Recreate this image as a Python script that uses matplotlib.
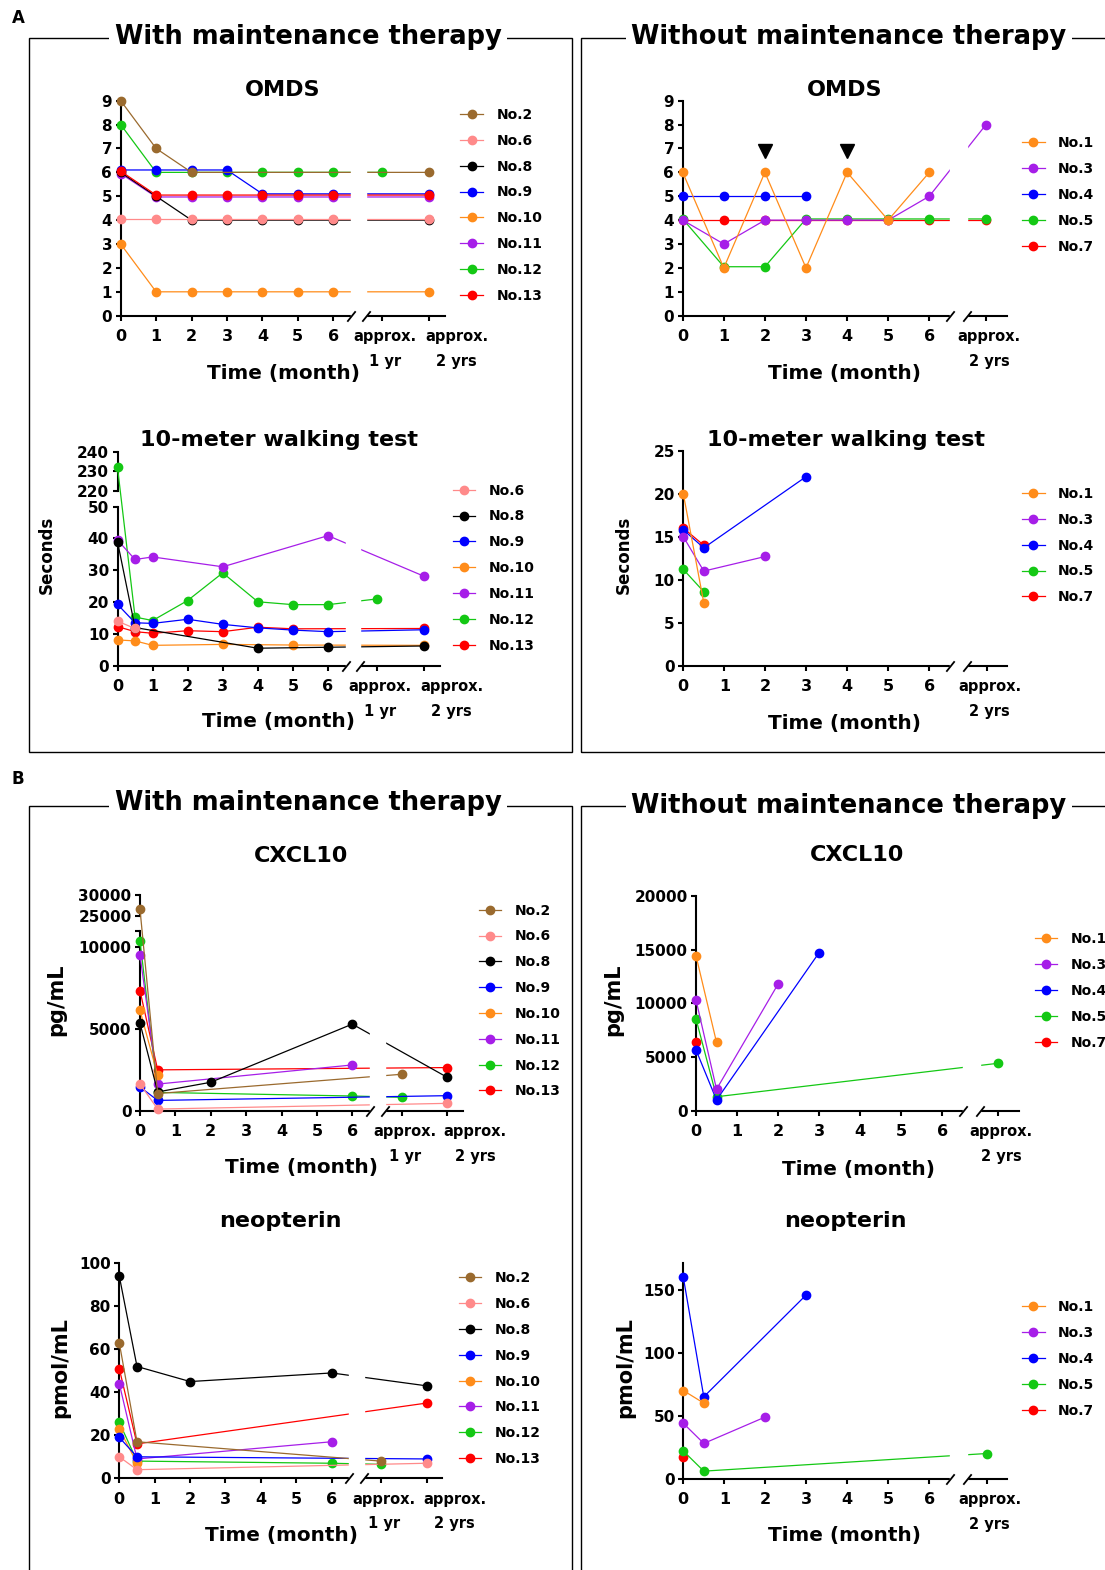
import numpy as np
import matplotlib.pyplot as plt
from matplotlib import transforms
from matplotlib.patches import Rectangle

W, H = 1105, 1570
plt.rcParams['font.family'] = ['DejaVu Sans']
plt.rcParams['font.weight'] = 'bold'

colors = {
    "No.1": "#FF8C1A", "No.2": "#9A6A2E", "No.3": "#A61EE8", "No.4": "#0000FF",
    "No.5": "#14C814", "No.6": "#FF8A8A", "No.7": "#FF0000", "No.8": "#000000",
    "No.9": "#0000FF", "No.10": "#FF8C1A", "No.11": "#A61EE8", "No.12": "#14C814",
    "No.13": "#FF0000",
}

# time in months; approx. 1 yr = 12, approx. 2 yrs = 24
omds_with = {
    "No.2": ([0, 1, 2, 24], [9, 7, 6, 6]),
    "No.6": ([0, 1, 2, 3, 4, 5, 6, 24], [4.05, 4.05, 4.05, 4.05, 4.05, 4.05, 4.05, 4.05]),
    "No.8": ([0, 1, 2, 3, 4, 5, 6, 24], [6, 5, 4, 4, 4, 4, 4, 4]),
    "No.9": ([0, 1, 2, 3, 4, 5, 6, 24], [6.1, 6.1, 6.1, 6.1, 5.1, 5.1, 5.1, 5.1]),
    "No.10": ([0, 1, 2, 3, 4, 5, 6, 24], [3, 1, 1, 1, 1, 1, 1, 1]),
    "No.11": ([0, 1, 2, 3, 4, 5, 6, 24], [5.95, 4.97, 4.97, 4.97, 4.97, 4.97, 4.97, 4.97]),
    "No.12": ([0, 1, 2, 3, 4, 5, 6, 12], [8, 6, 6, 6, 6, 6, 6, 6]),
    "No.13": ([0, 1, 2, 3, 4, 5, 6, 24], [6.05, 5.05, 5.05, 5.05, 5.05, 5.05, 5.05, 5.05]),
}
omds_with_order = ["No.12", "No.11", "No.10", "No.9", "No.8", "No.6", "No.2", "No.13"]

omds_without = {
    "No.1": ([0, 1, 2, 3, 4, 5, 6], [6, 2, 6, 2, 6, 4, 6]),
    "No.3": ([0, 1, 2, 3, 4, 5, 6, 24], [4, 3, 4, 4, 4, 4, 5, 8]),
    "No.4": ([0, 1, 2, 3], [5, 5, 5, 5]),
    "No.5": ([0, 1, 2, 3, 4, 5, 6, 24], [4.05, 2.05, 2.05, 4.05, 4.05, 4.05, 4.05, 4.05]),
    "No.7": ([0, 1, 2, 3, 4, 5, 6, 24], [4, 4, 4, 4, 4, 4, 4, 4]),
}
arrow_months = [2, 4]
arrow_level = 6.9

walk_with = {
    "No.6": ([0, 0.5], [14.0, 11.7]),
    "No.8": ([0, 0.5, 4, 6, 24], [39, 12, 5.5, 5.8, 6.2]),
    "No.9": ([0, 0.5, 1, 2, 3, 4, 5, 6, 24], [19.3, 13.5, 13.3, 14.6, 13.0, 11.9, 11.2, 10.7, 11.3]),
    "No.10": ([0, 0.5, 1, 3, 5, 24], [8.1, 7.8, 6.4, 6.7, 6.5, 6.4]),
    "No.11": ([0, 0.5, 1, 3, 6, 24], [39.5, 33.4, 34.2, 31.1, 40.9, 28.2]),
    "No.12": ([0, 0.5, 1, 2, 3, 4, 5, 6, 12], [232, 15.3, 14.2, 20.5, 29.2, 20.1, 19.2, 19.2, 21.0]),
    "No.13": ([0, 0.5, 1, 2, 3, 4, 5, 24], [12.3, 10.7, 10.2, 11.0, 10.7, 12.1, 11.6, 11.7]),
}

walk_without = {
    "No.1": ([0, 0.5], [20, 7.3]),
    "No.3": ([0, 0.5, 2], [15, 11, 12.7]),
    "No.4": ([0, 0.5, 3], [15.8, 13.7, 22]),
    "No.5": ([0, 0.5], [11.2, 8.6]),
    "No.7": ([0, 0.5], [16, 14]),
}

cxcl_with = {
    "No.2": ([0, 0.5, 12], [26600, 1050, 2230]),
    "No.6": ([0, 0.5, 24], [1630, 100, 450]),
    "No.8": ([0, 0.5, 2, 6, 24], [5360, 1150, 1740, 5300, 2040]),
    "No.9": ([0, 0.5, 24], [1450, 630, 920]),
    "No.10": ([0, 0.5], [6140, 2160]),
    "No.11": ([0, 0.5, 6], [9520, 1630, 2800]),
    "No.12": ([0, 0.5, 6, 12], [10400, 1120, 900, 820]),
    "No.13": ([0, 0.5, 24], [7340, 2500, 2640]),
}

cxcl_without = {
    "No.1": ([0, 0.5], [14440, 6370]),
    "No.3": ([0, 0.5, 2], [10320, 2000, 11800]),
    "No.4": ([0, 0.5, 3], [5660, 1000, 14730]),
    "No.5": ([0, 0.5, 24], [8550, 1300, 4420]),
    "No.7": ([0], [6370]),
}

neop_with = {
    "No.2": ([0, 0.5, 12], [63, 17, 8]),
    "No.6": ([0, 0.5, 24], [10, 4, 7]),
    "No.8": ([0, 0.5, 2, 6, 24], [94, 52, 45, 49, 43]),
    "No.9": ([0, 0.5, 24], [19, 10, 9]),
    "No.10": ([0, 0.5], [23, 7]),
    "No.11": ([0, 0.5, 6], [44, 9, 17]),
    "No.12": ([0, 0.5, 6, 12], [26, 8, 7, 6.5]),
    "No.13": ([0, 0.5, 24], [51, 16, 35]),
}

neop_without = {
    "No.1": ([0, 0.5], [70, 60]),
    "No.3": ([0, 0.5, 2], [44, 28, 49]),
    "No.4": ([0, 0.5, 3], [160, 65, 146]),
    "No.5": ([0, 0.5, 24], [22, 6, 20]),
    "No.7": ([0], [17]),
}

fig = plt.figure(figsize=(W / 100, H / 100), dpi=100)


def piecewise(src, dst):
    src = np.asarray(src, float)
    dst = np.asarray(dst, float)
    lo = (dst[1] - dst[0]) / (src[1] - src[0])
    hi = (dst[-1] - dst[-2]) / (src[-1] - src[-2])

    def f(v):
        v = np.asarray(v, float)
        out = np.interp(v, src, dst)
        out = np.where(v < src[0], dst[0] + (v - src[0]) * lo, out)
        out = np.where(v > src[-1], dst[-1] + (v - src[-1]) * hi, out)
        return out
    return f


def txt(x, y, s, size, **kw):
    kw.setdefault('ha', 'center')
    kw.setdefault('va', 'center')
    return fig.text(x / W, 1 - y / H, s, fontsize=size, fontweight='bold', **kw)


def panel(geo, series, ylim, yticks, legend_at, order=None, ysplit=None):
    x0, x6, x1y, x2y, xend, ybot, ytop = geo
    ax = fig.add_axes([x0 / W, 1 - ybot / H, (xend - x0) / W, (ybot - ytop) / H])
    ax.patch.set_alpha(0)
    unit = (x6 - x0) / 6
    src, dst = [0, 6], [0, 6]
    if x1y:
        src.append(12)
        dst.append((x1y - x0) / unit)
    src.append(24)
    dst.append((x2y - x0) / unit)
    fwd, inv = piecewise(src, dst), piecewise(dst, src)
    ax.set_xscale('function', functions=(fwd, inv))
    ax.set_xlim(0, float(inv((xend - x0) / unit)))
    if ysplit:
        ax.set_yscale('function', functions=(piecewise(*ysplit), piecewise(ysplit[1], ysplit[0])))
    ax.set_ylim(*ylim)

    names = list(series)
    lines = {}
    for name in (order or names[::-1]):
        t, v = series[name]
        lines[name], = ax.plot(t, v, color=colors[name], lw=0.9, marker='o', ms=6,
                               clip_on=False, zorder=2.6)

    # axis break
    b1, b2 = float(inv(6.5)), float(inv(6.92))
    ax.axvspan(b1, b2, ymin=-0.05, ymax=1, color='white', zorder=3, clip_on=False)
    ax.plot([b1, b2], [0, 0], transform=ax.get_xaxis_transform(), ls='none',
            marker=[(-0.8, -1), (0.8, 1)], ms=7.5, mew=1.3, mec='black', mfc='none',
            clip_on=False, zorder=4)

    ticks = [0, 1, 2, 3, 4, 5, 6] + ([12] if x1y else []) + [24]
    labels = [str(i) for i in range(7)] + (['approx.\n1 yr'] if x1y else []) + ['approx.\n2 yrs']
    ax.set_xticks(ticks, labels)
    ylabels = [str(v) for v in yticks]
    if ysplit:
        ylabels = ['' if v == ysplit[0][1] and v not in (50,) else str(v) for v in yticks]
    ax.set_yticks(yticks, ylabels)
    ax.tick_params(axis='x', length=3.6, width=1.5, pad=6, labelsize=11.5)
    ax.tick_params(axis='y', length=3.6, width=1.5, pad=2.5, labelsize=11)
    for s in ['top', 'right']:
        ax.spines[s].set_visible(False)
    for s in ['left', 'bottom']:
        ax.spines[s].set_linewidth(1.5)
    if ysplit:
        ax.spines['left'].set_bounds(0, ysplit[0][1])
        ax.plot([0, 0], [ysplit[0][2], ysplit[0][3]], transform=ax.get_yaxis_transform(),
                color='black', lw=1.5, clip_on=False, solid_capstyle='projecting')
    xl = ax.get_xticklabels()
    for k, lab in enumerate(xl[7:]):
        lab.set_fontsize(10.5)
        lab.set_linespacing(1.8)
        dx = 3 if (k == 0 or not x1y) else 28
        lab.set_transform(lab.get_transform() +
                          transforms.ScaledTranslation(dx / 100, 0, fig.dpi_scale_trans))

    mx, y0 = legend_at
    n = len(names)
    ax.legend([lines[nm] for nm in names], names, loc='center left',
              bbox_to_anchor=((mx - 11.5) / W, 1 - (y0 + (n - 1) / 2 * 25.8) / H),
              bbox_transform=fig.transFigure, frameon=False,
              handlelength=1.65, handletextpad=0.95, labelspacing=0.85,
              borderpad=0, borderaxespad=0, prop={'weight': 'bold', 'size': 10})
    return ax


# A: OMDS
panel((120.7, 333.3, 382.3, 428.7, 444.5, 315.7, 100.7), omds_with, (0, 9), range(10),
      (471.7, 115), order=omds_with_order)
ax = panel((682.7, 929.3, None, 986, 1006.7, 315.7, 100.7), omds_without, (0, 9), range(10),
           (1033.3, 143.3))
ax.plot(arrow_months, [arrow_level] * len(arrow_months), ls='none', marker='v', ms=10,
        color='black', zorder=5)

# A: walking test
panel((117.5, 328, 377, 423.5, 440, 665.7, 451.7), walk_with, (0, 240),
      [0, 10, 20, 30, 40, 50, 220, 230, 240], (464, 490.7),
      ysplit=([0, 50, 220, 240], [0, 159, 175, 214]))
panel((683.3, 929.3, None, 986.7, 1006.7, 665.7, 450.7), walk_without, (0, 25),
      [0, 5, 10, 15, 20, 25], (1033.3, 494))

# B: CXCL10
panel((140, 352.3, 401.7, 447.3, 463.3, 1110.7, 895), cxcl_with, (0, 30000),
      [0, 5000, 10000, 11000, 25000, 30000], (490, 910.7),
      ysplit=([0, 11000, 25000, 30000], [0, 179.7, 194.7, 215.7]))
panel((696, 942.3, None, 998.3, 1019, 1110.7, 896), cxcl_without, (0, 20000),
      [0, 5000, 10000, 15000, 20000], (1046, 939.3))

# B: neopterin
panel((119.3, 331.7, 380.7, 426.7, 442.3, 1478.3, 1263.3), neop_with, (0, 100),
      [0, 20, 40, 60, 80, 100], (470, 1278.3))
panel((683.3, 929.3, None, 986.7, 1006.7, 1478.7, 1263.3), neop_without, (0, 171),
      [0, 50, 100, 150], (1033.3, 1307.3))

# titles and axis labels
for x, y, s in [(282.5, 90, 'OMDS'), (844.7, 90, 'OMDS'),
                (279, 440, '10-meter walking test'), (845.7, 440, '10-meter walking test'),
                (300.8, 856, 'CXCL10'), (857.5, 855, 'CXCL10'),
                (280.8, 1221, 'neopterin'), (845.7, 1221, 'neopterin')]:
    txt(x, y, s, 16)
for x, y in [(283.3, 373), (845, 373), (279, 722), (845, 723),
             (301.7, 1168), (858, 1170), (281.7, 1536), (845, 1536)]:
    txt(x, y, 'Time (month)', 14.4)
for x, y, s, size in [(47, 555, 'Seconds', 12), (623.3, 555, 'Seconds', 12),
                      (56.7, 1000, 'pg/mL', 15), (613.3, 1000, 'pg/mL', 15),
                      (60, 1368, 'pmol/mL', 15), (625, 1368, 'pmol/mL', 15)]:
    txt(x, y, s, size, rotation=90)

# group boxes
for l, t, r, b in [(29, 38, 572, 752), (581, 38, 1120, 752),
                   (29, 806, 572, 1590), (581, 806, 1120, 1590)]:
    fig.add_artist(Rectangle((l / W, 1 - b / H), (r - l) / W, (b - t) / H,
                             transform=fig.transFigure, fill=False, lw=1, ec='black', zorder=1))
box_style = dict(facecolor='white', edgecolor='none', pad=4)
txt(308, 37, 'With maintenance therapy', 18.5, bbox=box_style)
txt(849, 37, 'Without maintenance therapy', 18.5, bbox=box_style)
txt(308, 803, 'With maintenance therapy', 18.5, bbox=box_style)
txt(849, 806, 'Without maintenance therapy', 18.5, bbox=box_style)
txt(18, 18, 'A', 12)
txt(18, 779, 'B', 12)

fig.savefig('out.png', dpi=100)
